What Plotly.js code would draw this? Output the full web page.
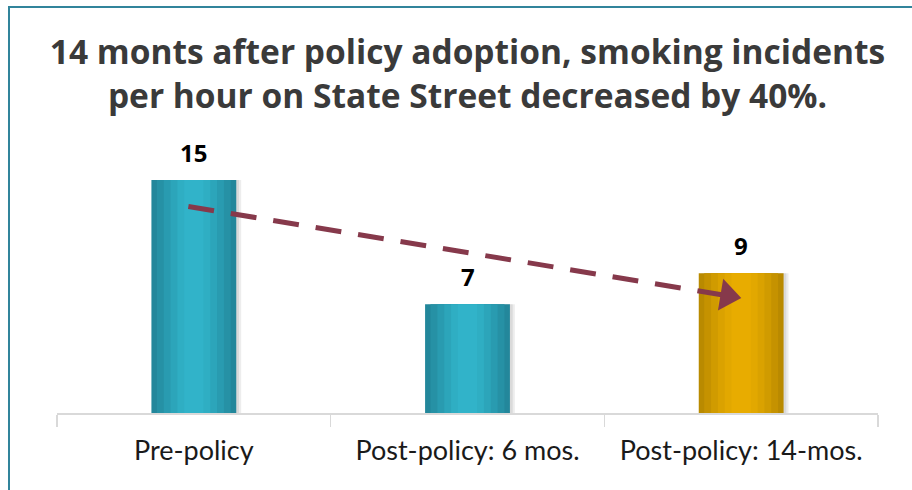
<!DOCTYPE html>
<html>
<head>
<meta charset="utf-8">
<script src="https://cdn.plot.ly/plotly-3.0.1.min.js"></script>
<style>
  html, body { margin: 0; padding: 0; background: #ffffff; }
  #wrap { position: relative; width: 912px; height: 490px; overflow: hidden; }
  #chart { position: absolute; left: 0; top: 0; width: 912px; height: 490px; }
  #frame { position: absolute; left: 8px; top: 6px; width: 920px; height: 500px;
           border-left: 2px solid #31849b; border-top: 2px solid #31849b; pointer-events: none; }
</style>
</head>
<body>
<div id="wrap">
  <div id="chart"></div>
  <div id="frame"></div>
</div>
<script>
// ---- data ----
var categories = ["Pre-policy", "Post-policy: 6 mos.", "Post-policy: 14-mos."];
var incidents = [15, 7, 9];
var titleText = "14 monts after policy adoption, smoking incidents<br>per hour on State Street decreased by 40%.";
// dashed trend arrow (category index, value)
var trendX = [-0.02, 1.95];
var trendY = [13.3, 7.55];

// ---- styling (gradient imitation: edge -> centre) ----
var tealShades = ["#23879b", "#2691a5", "#299bb0", "#2ca5ba", "#2faec3", "#31b3c9"];
var goldShades = ["#b98a00", "#c59200", "#d09b00", "#daa200", "#e2a800", "#e8ac00"];
var layerWidths = [0.31, 0.27, 0.22, 0.17, 0.12, 0.07];
var isGold = [false, false, true];

var BAR_W = 0.31;
var traces = [];

// soft shadow to the right
[[0.018, "rgba(0,0,0,0.07)"], [0.010, "rgba(0,0,0,0.08)"]].forEach(function (s) {
  traces.push({
    type: "bar", x: categories, y: incidents,
    width: BAR_W, offset: -BAR_W / 2 + s[0],
    marker: { color: s[1], line: { width: 0 } },
    hoverinfo: "skip", showlegend: false
  });
});

layerWidths.forEach(function (w, k) {
  traces.push({
    type: "bar", x: categories, y: incidents,
    width: w, offset: -w / 2,
    marker: {
      color: isGold.map(function (g) { return g ? goldShades[k] : tealShades[k]; }),
      line: { width: 0 }
    },
    hoverinfo: "skip", showlegend: false
  });
});

traces.push({
  type: "scatter",
  mode: "lines+markers",
  xaxis: "x2",
  x: trendX,
  y: trendY,
  line: { color: "#86394b", width: 5, dash: "26px,17px" },
  marker: { symbol: ["circle", "triangle-up"], size: [0, 28], color: ["#86394b", "#86394b"],
            opacity: 1, angleref: "previous", line: { width: 0 } },
  hoverinfo: "skip",
  showlegend: false
});

var annotations = categories.map(function (c, i) {
  return {
    x: c, y: incidents[i], xref: "x", yref: "y",
    text: String(incidents[i]), showarrow: false,
    yanchor: "bottom", yshift: 9,
    font: { family: "Open Sans", size: 24, color: "#000000", weight: "bold" }
  };
});

var layout = {
  width: 912, height: 490,
  margin: { l: 57, r: 34, t: 130, b: 77 },
  paper_bgcolor: "#ffffff",
  plot_bgcolor: "#ffffff",
  barmode: "overlay",
  title: {
    text: titleText,
    x: 0.5, xref: "paper", xanchor: "center",
    y: 1 - 64 / 490, yref: "container", yanchor: "middle",
    font: { family: "Open Sans", size: 33.5, color: "#3a3a3a", weight: "bold" }
  },
  xaxis: {
    type: "category",
    range: [-0.5, 2.5],
    showline: true, linecolor: "#d9d9d9", linewidth: 1.5,
    ticks: "outside", tickson: "boundaries", ticklen: 12, tickcolor: "#d9d9d9", tickwidth: 1.5,
    tickfont: { family: "Lato", size: 27, color: "#1a1a1a" },
    ticklabelstandoff: 13,
    showgrid: false, zeroline: false, fixedrange: true
  },
  xaxis2: {
    overlaying: "x", range: [-0.5, 2.5], visible: false, fixedrange: true
  },
  yaxis: {
    range: [0, 18.22],
    visible: false, showgrid: false, zeroline: false, fixedrange: true
  },
  annotations: annotations,
  showlegend: false
};

Plotly.newPlot("chart", traces, layout, { displayModeBar: false, staticPlot: true });
</script>
</body>
</html>
